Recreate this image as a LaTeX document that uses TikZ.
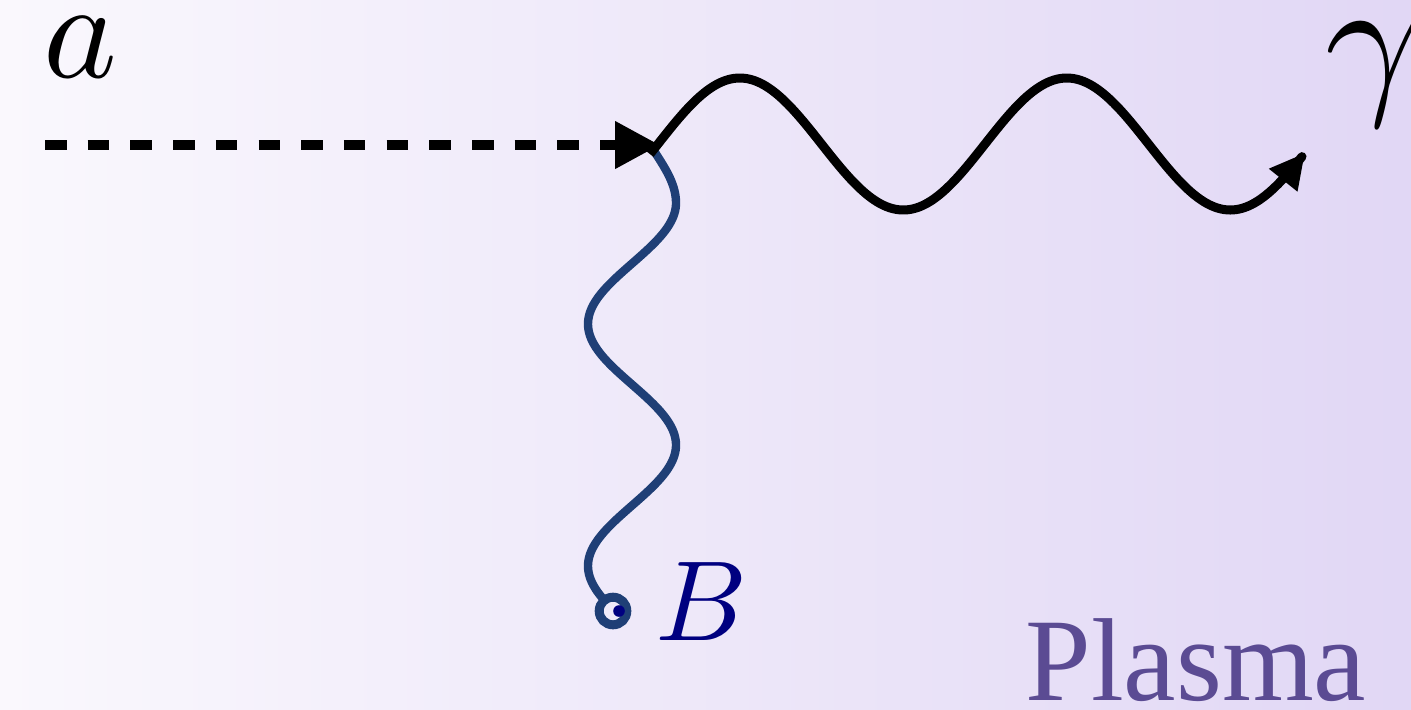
\documentclass[tikz,border=0pt]{standalone}
\usepackage{fontspec}
\newfontfamily\plasmafont{Liberation Serif}
\DeclareFontFamily{OML}{cmm}{\skewchar\font127}
\DeclareFontShape{OML}{cmm}{m}{it}{<->cmmi10}{}
\usetikzlibrary{arrows.meta}
\definecolor{bgL}{HTML}{FAF8FD}
\definecolor{bgR}{HTML}{E1D7F5}
\definecolor{bline}{HTML}{1F3F76}
\definecolor{bnavy}{HTML}{000080}
\definecolor{plasmac}{HTML}{5B4B93}
\begin{document}
\begin{tikzpicture}[x=0.5pt,y=-0.5pt,
  axion/.style={line width=5.2pt, dash pattern=on 10.75pt off 10.6pt,
    -{Triangle[length=22.5pt,width=22.5pt]}},
  photon/.style={line width=4.5pt, line join=round,
    -{Triangle[length=17.5pt,width=17pt]}},
  field/.style={line width=4.2pt, draw=bline, line join=round},
  lbl/.style={inner sep=0pt, anchor=base west}]
\shade[left color=bgL, right color=bgR] (0,0) rectangle (1411,709);
\clip (0,0) rectangle (1411,709);
\useasboundingbox (0,0) rectangle (1411,709);
% coordinates
\coordinate (aStart) at (45,145);
\coordinate (aEnd) at (660,145);
% axion line
\draw[axion] (aStart) -- (aEnd);
% magnetic field line
\draw[field] plot[domain=148:600, samples=160]
  ({632 + 44*sin(90+(\x-203)/242*360) + 14*(max(0,1-(\x-148)/55))^2}, \x);
\node[circle, draw=bline, line width=4.5pt, minimum size=13.8pt, inner sep=0pt,
  fill=bgL!60!bgR] (bsrc) at (613,611) {};
\node[circle, fill=bnavy, minimum size=5.8pt, inner sep=0pt] (bdot) at (619,611) {};
% photon
\draw[photon] plot[domain=650:1305, samples=220]
  (\x, {144 - 66*sin((\x-658)/327*360)});
% labels
\node[lbl, font=\fontsize{70}{80}\selectfont] (la) at (43,77) {$a$};
\node[lbl, font=\fontsize{57}{66}\selectfont, text=bnavy] (lB) at (655,640) {$B$};
\node[lbl, font=\fontsize{83}{96}\selectfont] (lg) at (1325,94) {$\gamma$};
\node[lbl, font=\plasmafont\fontsize{59}{68}\selectfont, text=plasmac] (lp) at (1025,700) {Plasma};
\end{tikzpicture}
\end{document}
